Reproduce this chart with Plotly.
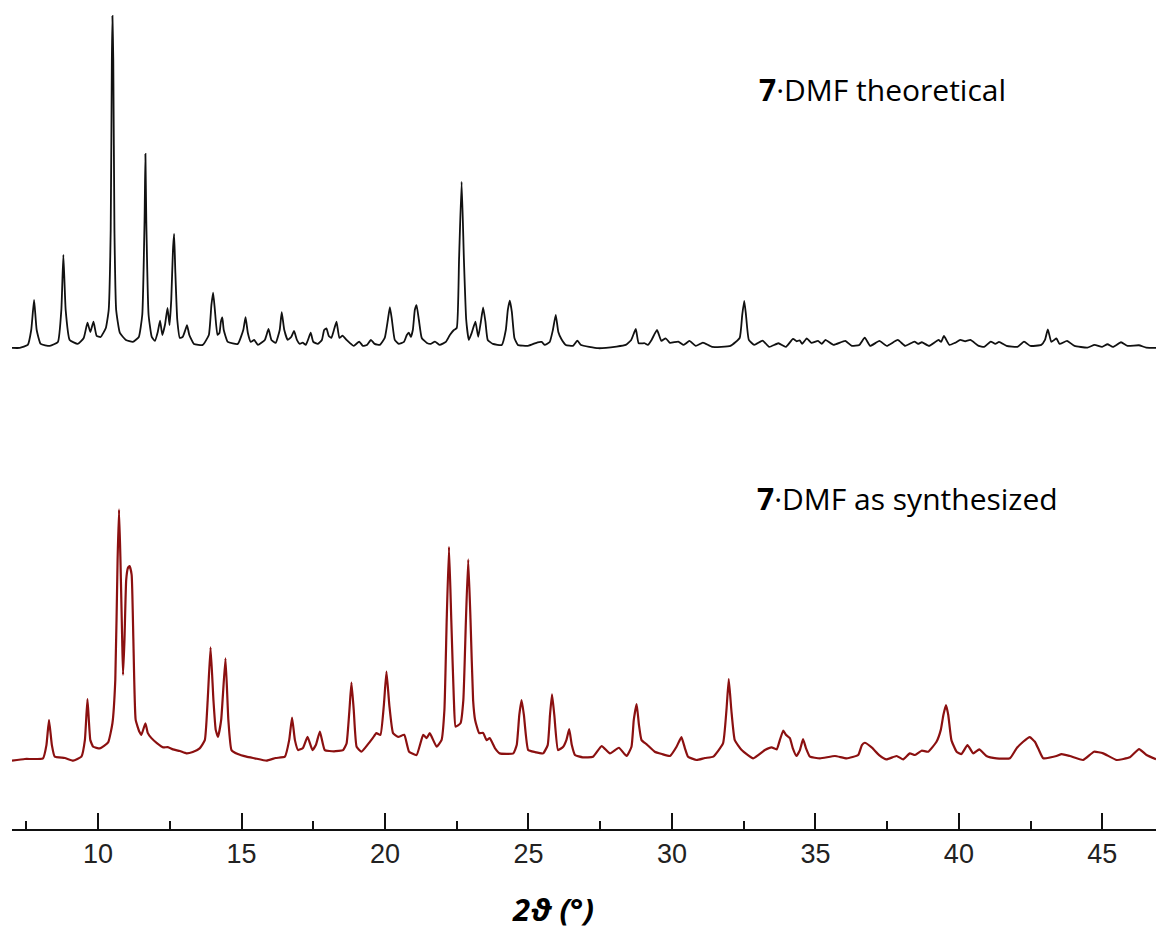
import plotly.graph_objects as go

# ---- theoretical pattern (2theta in degrees, relative intensity) ----
theo_2theta = [
    7.00, 7.27, 7.55, 7.67, 7.77, 7.86, 8.00, 8.32, 8.60, 8.72, 8.79, 8.87, 9.01, 9.29,
    9.50, 9.63, 9.73, 9.84, 9.95, 10.09, 10.27, 10.37, 10.44, 10.48, 10.50, 10.53, 10.57,
    10.63, 10.76, 10.97, 11.21, 11.42, 11.54, 11.62, 11.65, 11.68, 11.76, 11.87, 11.98,
    12.08, 12.16, 12.24, 12.33, 12.42, 12.49, 12.55, 12.61, 12.65, 12.69, 12.76, 12.85,
    12.95, 13.04, 13.10, 13.18, 13.34, 13.65, 13.86, 13.95, 14.01, 14.07, 14.16, 14.23,
    14.28, 14.33, 14.38, 14.52, 14.87, 15.06, 15.14, 15.22, 15.32, 15.44, 15.57, 15.81,
    15.94, 16.04, 16.19, 16.33, 16.40, 16.49, 16.61, 16.73, 16.83, 16.93, 17.03, 17.13,
    17.24, 17.34, 17.41, 17.50, 17.66, 17.80, 17.88, 17.96, 18.04, 18.13, 18.22, 18.31,
    18.41, 18.52, 18.66, 18.77, 18.91, 19.10, 19.23, 19.37, 19.51, 19.64, 19.82, 19.99,
    20.10, 20.17, 20.24, 20.34, 20.48, 20.66, 20.76, 20.83, 20.90, 20.97, 21.04, 21.10,
    21.18, 21.28, 21.46, 21.60, 21.74, 21.91, 22.12, 22.26, 22.40, 22.50, 22.58, 22.67,
    22.75, 22.83, 22.92, 23.02, 23.15, 23.25, 23.34, 23.42, 23.50, 23.58, 23.76, 24.07,
    24.21, 24.28, 24.35, 24.42, 24.51, 24.63, 24.98, 25.32, 25.46, 25.57, 25.74, 25.85,
    25.95, 26.04, 26.15, 26.30, 26.55, 26.70, 26.83, 27.43, 28.07, 28.39, 28.58, 28.74,
    28.84, 29.05, 29.16, 29.29, 29.48, 29.63, 29.78, 29.93, 30.22, 30.41, 30.61, 30.83,
    31.08, 31.40, 32.04, 32.36, 32.45, 32.52, 32.58, 32.68, 32.87, 33.16, 33.39, 33.71,
    33.97, 34.22, 34.35, 34.45, 34.54, 34.70, 34.86, 35.09, 35.22, 35.35, 35.63, 36.04,
    36.27, 36.53, 36.72, 36.91, 37.23, 37.49, 37.87, 38.13, 38.45, 38.58, 38.71, 38.96,
    39.29, 39.38, 39.48, 39.67, 39.86, 40.05, 40.22, 40.40, 40.69, 40.88, 41.11, 41.27,
    41.40, 41.66, 42.04, 42.27, 42.49, 42.87, 43.00, 43.10, 43.22, 43.32, 43.40, 43.51,
    43.77, 44.03, 44.48, 44.73, 44.99, 45.18, 45.37, 45.65, 45.88, 46.27, 46.53, 46.88,
]
theo_intensity = [
    -0.3, -0.3, 0.6, 5.1, 14.2, 5.1, 0.9, 0.3, 1.5, 11.2, 27.8, 11.2, 2.1, 0.9,
    2.7, 7.3, 4.5, 7.6, 3.3, 3.0, 5.7, 11.2, 35.3, 86.7, 100.0, 86.7, 35.3,
    11.2, 4.2, 2.1, 1.5, 3.0, 9.7, 38.4, 58.3, 38.4, 9.7, 3.0, 1.8,
    4.5, 7.9, 3.6, 6.6, 11.8, 6.6, 14.2, 29.3, 34.1, 23.3, 8.2, 2.7,
    3.0, 5.1, 6.6, 3.6, 0.9, 0.6, 3.6, 12.7, 16.4, 11.2, 3.6, 4.2,
    7.6, 8.9, 5.1, 1.5, 0.9, 5.1, 9.0, 4.2, 1.5, 2.1, 0.6, 2.1,
    5.4, 2.1, 1.2, 5.1, 10.5, 5.1, 2.1, 3.0, 4.8, 2.1, 0.9, 1.3,
    0.6, 2.7, 4.3, 1.5, 0.9, 2.1, 5.1, 5.6, 3.3, 2.7, 5.1, 7.6,
    2.7, 3.4, 2.1, 1.2, 0.3, 1.6, 0.3, 0.6, 2.1, 0.9, 0.6, 2.7,
    8.2, 12.0, 8.2, 2.1, 0.9, 1.5, 3.6, 4.3, 3.0, 5.1, 11.2, 12.6,
    8.2, 2.7, 1.2, 0.9, 1.6, 0.6, 1.5, 3.6, 5.1, 5.7, 26.3, 49.9,
    26.3, 8.2, 2.1, 4.2, 7.6, 3.0, 7.6, 11.9, 7.6, 2.1, 0.9, 0.6,
    5.1, 11.2, 14.0, 10.6, 2.7, 0.6, 0.3, 1.4, 1.5, 0.6, 1.5, 5.1,
    9.7, 4.5, 2.3, 0.6, 0.3, 1.9, 0.6, -0.4, 0.1, 0.6, 2.1, 5.4,
    1.1, 1.1, 0.6, 2.1, 5.1, 1.8, 2.6, 1.2, 1.6, 0.6, 1.8, 0.3,
    1.3, 0.0, 0.3, 2.7, 9.7, 13.9, 9.7, 2.1, 0.6, 1.9, 0.0, 1.1,
    0.0, 2.4, 1.7, 2.0, 0.9, 2.6, 1.2, 1.8, 0.9, 2.1, 0.6, 1.8,
    0.3, 0.6, 2.8, 0.3, 1.8, 0.3, 2.1, 0.3, 1.6, 0.9, 1.4, 0.3,
    2.1, 1.5, 3.3, 0.6, 1.2, 2.1, 1.7, 2.1, 0.3, 0.0, 1.6, 0.9,
    1.5, 0.3, 0.0, 1.6, 0.3, 0.6, 2.1, 5.3, 1.5, 2.1, 2.6, 0.9,
    1.8, 0.3, -0.2, 0.6, 0.0, 0.8, 0.0, 1.4, 0.3, 0.5, -0.2, -0.3,
]

# ---- experimental pattern (as synthesized) ----
exp_2theta = [
    7.00, 7.45, 8.08, 8.20, 8.29, 8.39, 8.49, 8.84, 9.13, 9.42, 9.54, 9.63, 9.73, 9.83,
    10.06, 10.35, 10.50, 10.60, 10.68, 10.73, 10.78, 10.84, 10.87, 10.92, 10.98, 11.04,
    11.10, 11.17, 11.23, 11.31, 11.44, 11.51, 11.65, 11.73, 11.86, 12.05, 12.27, 12.43,
    12.61, 12.85, 13.08, 13.30, 13.54, 13.72, 13.82, 13.92, 14.02, 14.10, 14.18, 14.29,
    14.44, 14.54, 14.65, 14.87, 15.17, 15.46, 15.87, 16.19, 16.51, 16.66, 16.76, 16.86,
    16.97, 17.14, 17.30, 17.47, 17.59, 17.73, 17.90, 18.22, 18.54, 18.66, 18.76, 18.83,
    18.91, 19.01, 19.18, 19.41, 19.57, 19.70, 19.84, 19.96, 20.05, 20.15, 20.28, 20.46,
    20.67, 20.84, 21.10, 21.33, 21.45, 21.56, 21.80, 21.97, 22.07, 22.15, 22.23, 22.31,
    22.40, 22.46, 22.63, 22.73, 22.82, 22.90, 22.98, 23.07, 23.14, 23.28, 23.42, 23.54,
    23.65, 23.83, 24.00, 24.47, 24.59, 24.68, 24.76, 24.84, 24.99, 25.22, 25.51, 25.67,
    25.75, 25.82, 25.90, 26.03, 26.21, 26.32, 26.42, 26.51, 26.62, 26.89, 27.25, 27.55,
    27.84, 28.15, 28.42, 28.59, 28.67, 28.77, 28.85, 28.94, 29.11, 29.40, 29.65, 29.93,
    30.16, 30.33, 30.45, 30.56, 30.86, 31.15, 31.44, 31.78, 31.90, 31.98, 32.07, 32.19,
    32.43, 32.83, 33.24, 33.47, 33.65, 33.76, 33.88, 33.97, 34.11, 34.21, 34.34, 34.46,
    34.57, 34.67, 34.81, 35.16, 35.68, 36.09, 36.49, 36.62, 36.72, 36.96, 37.22, 37.48,
    37.83, 38.06, 38.29, 38.47, 38.70, 38.93, 39.22, 39.37, 39.46, 39.55, 39.63, 39.74,
    39.92, 40.09, 40.30, 40.50, 40.71, 40.96, 41.31, 41.78, 42.01, 42.24, 42.47, 42.65,
    42.79, 42.94, 43.40, 43.58, 43.87, 44.33, 44.71, 45.03, 45.50, 45.96, 46.28, 46.54,
    46.87,
]
exp_intensity = [
    -0.2, 0.3, 0.5, 4.5, 12.1, 4.5, 1.0, 0.6, -0.2, 1.0, 6.0, 18.4, 6.0, 4.0,
    3.5, 5.3, 11.1, 24.2, 60.4, 75.7, 60.4, 36.3, 25.7, 36.3, 54.4, 58.0,
    58.6, 55.9, 36.3, 12.1, 8.5, 7.6, 11.1, 8.2, 6.6, 5.1, 3.8, 3.9,
    3.2, 2.7, 2.0, 2.4, 3.5, 6.0, 18.1, 34.0, 18.1, 9.1, 7.0, 12.1,
    30.7, 12.1, 3.0, 1.8, 1.0, 0.5, -0.2, 0.6, 1.0, 6.0, 12.8, 6.0,
    3.0, 3.6, 7.0, 3.0, 4.5, 8.6, 3.0, 2.6, 3.0, 5.0, 15.1, 23.4,
    15.1, 4.0, 2.5, 4.8, 6.6, 8.1, 7.6, 16.6, 26.7, 16.6, 8.1, 7.0,
    7.6, 2.5, 1.5, 7.6, 6.6, 8.1, 4.0, 6.0, 15.1, 42.3, 64.4, 42.3,
    18.1, 10.1, 11.1, 18.1, 42.3, 60.6, 42.3, 18.1, 12.1, 8.1, 8.2, 6.0,
    6.6, 3.6, 2.0, 2.0, 4.5, 13.6, 18.1, 13.6, 3.0, 2.4, 2.0, 4.5,
    13.6, 19.8, 13.6, 3.0, 4.0, 6.0, 9.3, 4.5, 1.5, 0.8, 1.0, 4.2,
    2.0, 3.7, 1.2, 4.0, 12.1, 16.9, 10.6, 6.0, 4.8, 2.5, 1.8, 1.2,
    4.0, 6.9, 3.6, 1.0, 0.0, 0.6, 1.0, 5.0, 15.1, 24.4, 15.1, 6.0,
    3.0, 0.5, 3.0, 3.8, 3.2, 6.0, 8.9, 7.6, 6.6, 3.6, 1.2, 3.0,
    6.3, 3.6, 1.0, 0.5, 1.2, 0.5, 1.5, 4.5, 5.2, 3.8, 1.5, 0.2,
    1.2, 0.2, 2.0, 1.5, 2.8, 2.5, 5.5, 9.1, 13.6, 16.6, 13.6, 6.0,
    2.5, 1.8, 4.5, 2.0, 3.2, 1.2, 0.5, 0.5, 3.5, 5.5, 6.9, 5.5,
    3.0, 0.5, 1.2, 1.8, 1.2, 0.0, 2.5, 2.0, 0.0, 0.8, 3.3, 1.5,
    0.2,
]

THEO_OFFSET = 124.8
theo_label = "<b>7</b>·DMF theoretical"
exp_label = "<b>7</b>·DMF as synthesized"
major_ticks = [10, 15, 20, 25, 30, 35, 40, 45]
x_title = "<b><i>2ϑ (°)</i></b>"

fig = go.Figure()
fig.add_trace(go.Scatter(
    x=theo_2theta, y=[v + THEO_OFFSET for v in theo_intensity],
    mode="lines", line=dict(color="#111111", width=1.8, shape="spline", smoothing=0.4),
    showlegend=False))
fig.add_trace(go.Scatter(
    x=exp_2theta, y=exp_intensity,
    mode="lines", line=dict(color="#8b1010", width=2.2, shape="spline", smoothing=0.4),
    showlegend=False))

label_font = dict(family="Open Sans, Noto Sans", size=30, color="#000")
fig.add_annotation(x=32.96, y=202.5, xref="x", yref="y", text=theo_label,
                   showarrow=False, xanchor="left", yanchor="middle", font=label_font)
fig.add_annotation(x=32.89, y=79.0, xref="x", yref="y", text=exp_label,
                   showarrow=False, xanchor="left", yanchor="middle", font=label_font)
fig.add_annotation(x=25.85, y=-0.096, xref="x", yref="paper", text=x_title,
                   showarrow=False, xanchor="center", yanchor="middle",
                   font=dict(family="Open Sans, Noto Sans", size=31, color="#000"))

fig.update_layout(
    width=1156, height=931,
    margin=dict(l=12, r=0, t=0, b=102),
    paper_bgcolor="white", plot_bgcolor="white",
    xaxis=dict(range=[7, 46.87], showline=True, linecolor="#111", linewidth=2,
               showgrid=False, zeroline=False,
               tickvals=major_ticks, ticks="inside", ticklen=16, tickwidth=2,
               tickcolor="#111",
               minor=dict(dtick=2.5, tick0=0, ticks="inside", ticklen=8,
                          tickwidth=2, tickcolor="#111", showgrid=False),
               tickfont=dict(family="Liberation Sans, Arial", size=27, color="#222")),
    yaxis=dict(range=[-20.85, 229.6], visible=False),
)

fig.write_html("out.html")
